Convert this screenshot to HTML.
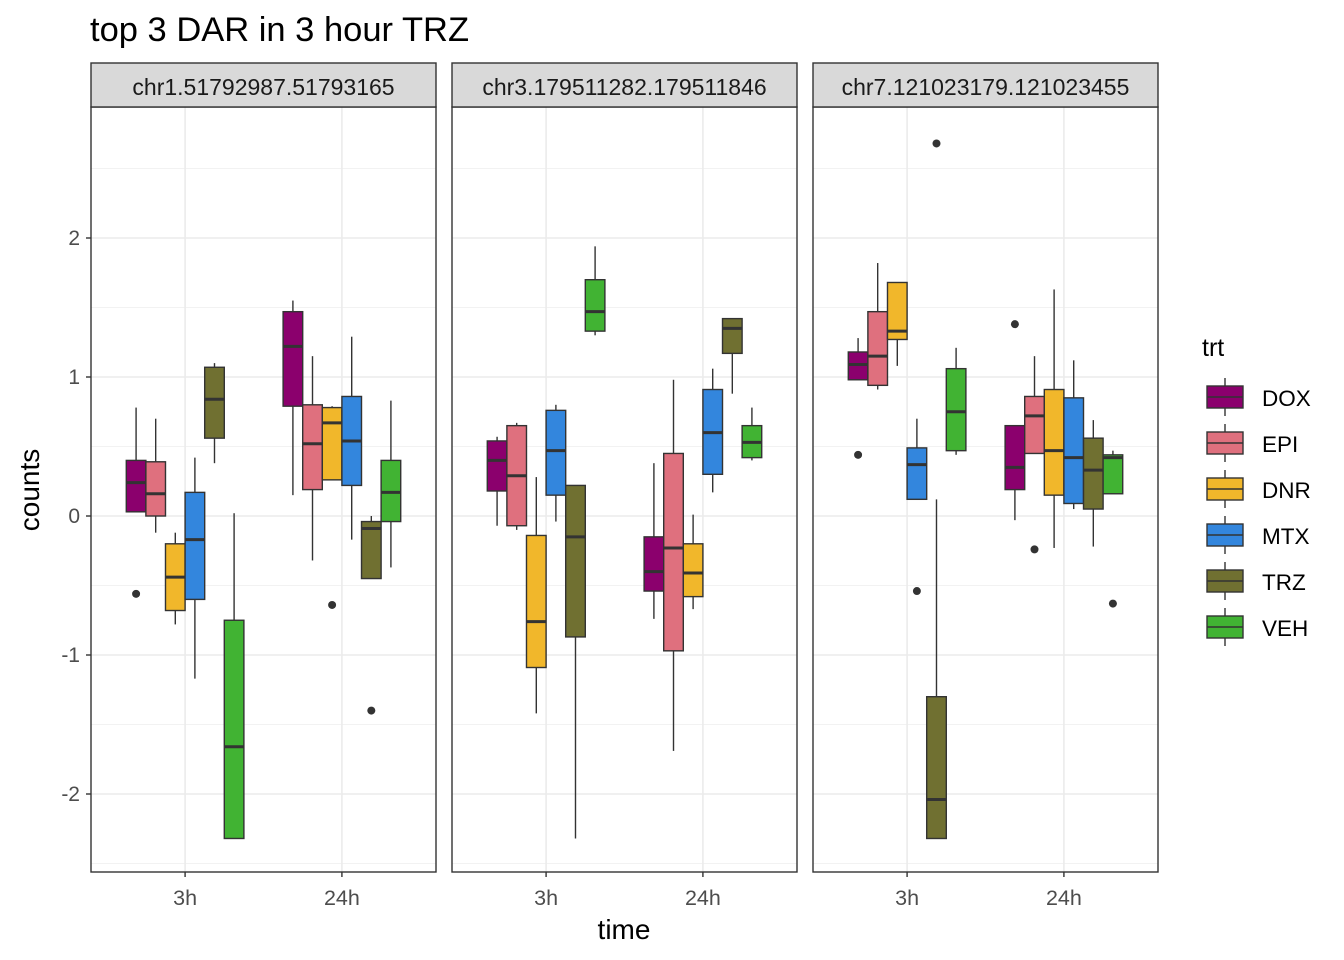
<!DOCTYPE html>
<html><head><meta charset="utf-8"><style>
body{margin:0;background:#fff;}
svg{display:block;font-family:"Liberation Sans",Arial,sans-serif;}
</style></head><body>
<svg id="chart" width="1344" height="960" viewBox="0 0 1344 960">
<text x="90" y="41" font-size="34.5" fill="#000">top 3 DAR in 3 hour TRZ</text>
<text x="624" y="939" font-size="28" text-anchor="middle">time</text>
<text x="39" y="490" font-size="28" text-anchor="middle" transform="rotate(-90 39 490)">counts</text>
<g id="panels"></g>
<g id="legend"></g>
</svg>
<script>
const facets=["chr1.51792987.51793165","chr3.179511282.179511846","chr7.121023179.121023455"];
const times=["3h","24h"];
const trts=["DOX","EPI","DNR","MTX","TRZ","VEH"];
const colors=["#8B006D","#DF707E","#F1B72B","#3386DD","#707031","#41B333"];
const yTicks=[-2,-1,0,1,2];
// [lowWhisker, q1, median, q3, highWhisker, outliers]
const stats1=[
 [[0.03,0.03,0.24,0.40,0.78,[-0.56]],[-0.12,0.0,0.16,0.39,0.70,[]],[-0.78,-0.68,-0.44,-0.2,-0.12,[]],[-1.17,-0.6,-0.17,0.17,0.42,[]],[0.38,0.56,0.84,1.07,1.1,[]],[-2.32,-2.32,-1.66,-0.75,0.02,[]]],
 [[0.15,0.79,1.22,1.47,1.55,[]],[-0.32,0.19,0.52,0.8,1.15,[]],[0.26,0.26,0.67,0.78,0.79,[-0.64]],[-0.17,0.22,0.54,0.86,1.29,[]],[-0.45,-0.45,-0.09,-0.04,0.0,[-1.4]],[-0.37,-0.04,0.17,0.4,0.83,[]]]
];
const stats2=[
 [[-0.07,0.18,0.40,0.54,0.57,[]],[-0.1,-0.07,0.29,0.65,0.67,[]],[-1.42,-1.09,-0.76,-0.14,0.28,[]],[-0.04,0.15,0.47,0.76,0.8,[]],[-2.32,-0.87,-0.15,0.22,0.22,[]],[1.3,1.33,1.47,1.70,1.94,[]]],
 [[-0.74,-0.54,-0.4,-0.15,0.38,[]],[-1.69,-0.97,-0.23,0.45,0.98,[]],[-0.67,-0.58,-0.41,-0.2,0.01,[]],[0.17,0.3,0.6,0.91,1.06,[]],[0.88,1.17,1.35,1.42,1.42,[]],[0.4,0.42,0.53,0.65,0.78,[]]]
];
const stats3=[
 [[0.98,0.98,1.09,1.18,1.28,[0.44]],[0.91,0.94,1.15,1.47,1.82,[]],[1.08,1.27,1.33,1.68,1.68,[]],[0.12,0.12,0.37,0.49,0.7,[-0.54]],[-2.32,-2.32,-2.04,-1.3,0.12,[2.68]],[0.44,0.47,0.75,1.06,1.21,[]]],
 [[-0.03,0.19,0.35,0.65,0.65,[1.38]],[0.45,0.45,0.72,0.86,1.15,[-0.24]],[-0.23,0.15,0.47,0.91,1.63,[]],[0.05,0.09,0.42,0.85,1.12,[]],[-0.22,0.05,0.33,0.56,0.69,[]],[0.16,0.16,0.42,0.44,0.47,[-0.63]]]
];
const allStats=[stats1,stats2,stats3];
const NS="http://www.w3.org/2000/svg";
const panelX=[91,452,813], PW=345, PT=107, PB=872, ST=63;
const y=v=>516-139*v;
const xPos=(p,t)=>panelX[p]+(0.6+t)*PW/2.2;
const slot=0.125*PW/2.2;
function mk(tag,attrs,parent){const e=document.createElementNS(NS,tag);for(const k in attrs)e.setAttribute(k,attrs[k]);parent.appendChild(e);return e;}
const root=document.getElementById('panels');
const minors=[-2.5,-1.5,-0.5,0.5,1.5,2.5];
facets.forEach((f,p)=>{
  const g=mk('g',{},root);
  
  
  const x0=panelX[p];
  mk('rect',{x:x0,y:PT,width:PW,height:PB-PT,fill:'#fff'},g);
  minors.forEach(v=>{if(y(v)>PT&&y(v)<PB)mk('line',{x1:x0,x2:x0+PW,y1:y(v),y2:y(v),stroke:'#F2F2F2','stroke-width':1},g);});
  yTicks.forEach(v=>mk('line',{x1:x0,x2:x0+PW,y1:y(v),y2:y(v),stroke:'#EBEBEB','stroke-width':1.6},g));
  times.forEach((t,ti)=>mk('line',{x1:xPos(p,ti),x2:xPos(p,ti),y1:PT,y2:PB,stroke:'#EBEBEB','stroke-width':1.6},g));
  allStats[p].forEach((tst,ti)=>{
    tst.forEach((s,k)=>{
      const cx=xPos(p,ti)+(k-2.5)*slot;
      const bg=mk('g',{},g);
      
      
      mk('line',{x1:cx,x2:cx,y1:y(s[4]),y2:y(s[3]),stroke:'#333','stroke-width':1.4},bg);
      mk('line',{x1:cx,x2:cx,y1:y(s[1]),y2:y(s[0]),stroke:'#333','stroke-width':1.4},bg);
      mk('rect',{x:cx-slot/2,y:y(s[3]),width:slot,height:y(s[1])-y(s[3]),fill:colors[k],stroke:'#333','stroke-width':1.4},bg);
      mk('line',{x1:cx-slot/2,x2:cx+slot/2,y1:y(s[2]),y2:y(s[2]),stroke:'#333','stroke-width':3},bg);
      s[5].forEach(o=>mk('circle',{cx:cx,cy:y(o),r:4,fill:'#333'},bg));
    });
  });
  mk('rect',{x:x0,y:PT,width:PW,height:PB-PT,fill:'none',stroke:'#333','stroke-width':1.4},g);
  const sg=mk('g',{},g);
  
  
  mk('rect',{x:x0,y:ST,width:PW,height:PT-ST,fill:'#D9D9D9',stroke:'#333','stroke-width':1.4},sg);
  const st=mk('text',{x:x0+PW/2,y:95,'font-size':23,'text-anchor':'middle',fill:'#1A1A1A'},sg);st.textContent=f;
  times.forEach((t,ti)=>{
    mk('line',{x1:xPos(p,ti),x2:xPos(p,ti),y1:PB,y2:PB+5,stroke:'#333','stroke-width':1.4},g);
    const tx=mk('text',{x:xPos(p,ti),y:905,'font-size':21.5,'text-anchor':'middle',fill:'#4D4D4D'},g);
    
    
    tx.textContent=t;
  });
});
yTicks.forEach(v=>{
  mk('line',{x1:86,x2:91,y1:y(v),y2:y(v),stroke:'#333','stroke-width':1.4},root);
  const t=mk('text',{x:80,y:y(v)+7,'font-size':21,'text-anchor':'end',fill:'#4D4D4D'},root);
  
  
  t.textContent=v;
});
const lg=document.getElementById('legend');
const lt=mk('text',{x:1202,y:356,'font-size':25},lg);lt.textContent='trt';
trts.forEach((t,k)=>{
  const cy=397+k*46;
  const e=mk('g',{},lg);
  
  
  mk('line',{x1:1225,x2:1225,y1:cy-19,y2:cy+19,stroke:'#333','stroke-width':1.4},e);
  mk('rect',{x:1207,y:cy-11,width:36,height:22,fill:colors[k],stroke:'#333','stroke-width':1.4},e);
  mk('line',{x1:1207,x2:1243,y1:cy,y2:cy,stroke:'#333','stroke-width':1.4},e);
  const tx=mk('text',{x:1262,y:cy+9,'font-size':22.5},e);tx.textContent=t;
});
</script>
</body></html>
